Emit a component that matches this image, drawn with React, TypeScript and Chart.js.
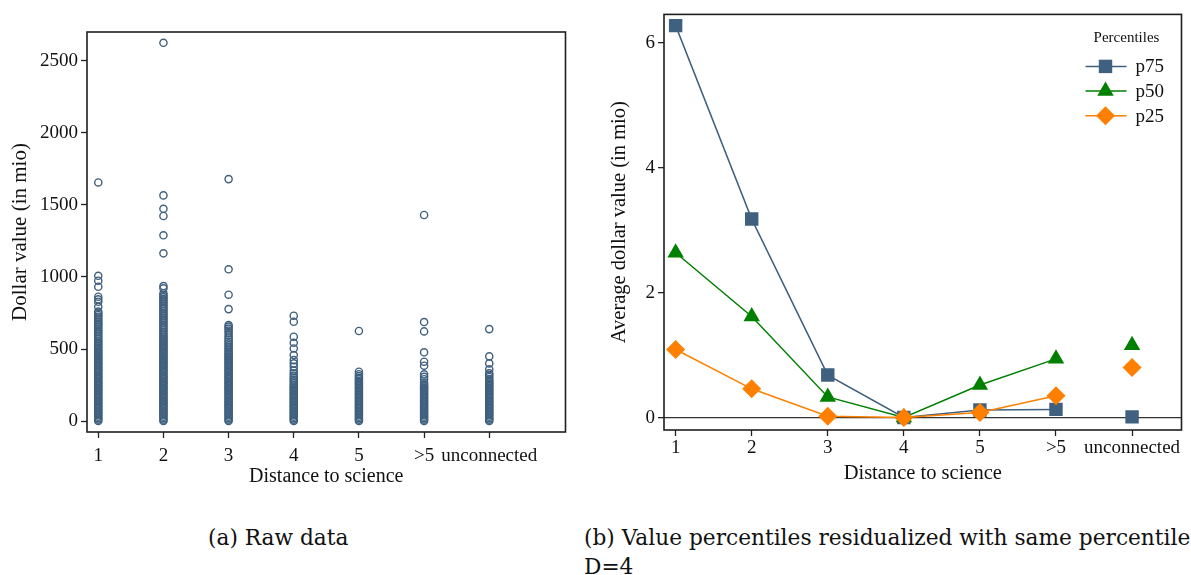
import React, { useEffect, useRef } from "react";
import { Chart, registerables } from "chart.js";

Chart.register(...registerables);

const FONT = "'Liberation Serif', 'Times New Roman', serif";
const CAPTION_FONT = "'DejaVu Serif', serif";
const BLUE = "#3f607e";
const GREEN = "#008000";
const ORANGE = "#ff8000";
const INK = "#111111";

// ---------- Panel (a): raw data ----------
const rawCategories = ["1", "2", "3", "4", "5", ">5", "unconnected"];
const rawXPositions = [1, 2, 3, 4, 5, 6, 7];
const rawYTicks = [0, 500, 1000, 1500, 2000, 2500];

const rawD1 = [
  0, 10, 20, 30, 40, 50, 60, 70, 80, 90, 100, 110, 120, 130, 140, 150, 160, 170, 180, 190, 200,
  210, 220, 230, 240, 250, 260, 270, 280, 290, 300, 310, 320, 330, 340, 350, 360, 370, 380, 390,
  400, 410, 420, 430, 440, 450, 460, 470, 480, 490, 500, 510, 520, 532, 544, 556, 568, 580, 592,
  604, 616, 628, 640, 652, 664, 676, 688, 700, 712, 724, 736, 748, 760, 793, 828, 845, 863, 932,
  974, 1008, 1656,
];
const rawD2 = [
  0, 10, 20, 30, 40, 50, 60, 70, 80, 90, 100, 110, 120, 130, 140, 150, 160, 170, 180, 190, 200,
  210, 220, 230, 240, 250, 260, 270, 280, 290, 300, 310, 320, 330, 340, 350, 360, 370, 380, 390,
  400, 410, 420, 430, 440, 450, 460, 470, 480, 490, 500, 510, 520, 530, 540, 550, 560, 572, 584,
  596, 608, 620, 632, 644, 656, 668, 680, 692, 704, 716, 728, 740, 752, 764, 776, 788, 800, 812,
  824, 836, 848, 860, 872, 886, 921, 937, 1164, 1289, 1423, 1473, 1566, 2625,
];
const rawD3 = [
  0, 10, 20, 30, 40, 50, 60, 70, 80, 90, 100, 110, 120, 130, 140, 150, 160, 170, 180, 190, 200,
  210, 220, 230, 240, 250, 260, 270, 280, 290, 300, 310, 320, 330, 340, 350, 360, 370, 380, 390,
  400, 410, 420, 430, 440, 450, 460, 470, 480, 492, 504, 516, 528, 540, 552, 565, 580, 596, 612,
  628, 642, 655, 666, 777, 877, 1053, 1679,
];
const rawD4 = [
  0, 10, 20, 30, 40, 50, 60, 70, 80, 90, 100, 110, 120, 130, 140, 150, 160, 170, 180, 190, 200,
  210, 220, 230, 240, 252, 264, 276, 288, 300, 315, 331, 350, 377, 400, 423, 458, 504, 543, 585,
  689, 731,
];
const rawD5 = [
  0, 10, 20, 30, 40, 50, 60, 70, 80, 90, 100, 110, 120, 130, 140, 150, 160, 170, 180, 190, 200,
  210, 220, 230, 240, 250, 260, 270, 280, 290, 300, 312, 325, 342, 625,
];
const rawD6 = [
  0, 10, 20, 30, 40, 50, 60, 70, 80, 90, 100, 110, 120, 130, 140, 150, 160, 170, 180, 190, 200,
  210, 220, 230, 240, 250, 266, 290, 307, 324, 384, 412, 477, 622, 687, 1430,
];
const rawD7 = [
  0, 10, 20, 30, 40, 50, 60, 70, 80, 90, 100, 110, 120, 130, 140, 150, 160, 170, 180, 190, 200,
  210, 220, 230, 240, 250, 260, 270, 280, 292, 306, 320, 331, 359, 400, 449, 638,
];
const rawColumns = [rawD1, rawD2, rawD3, rawD4, rawD5, rawD6, rawD7];

// ---------- Panel (b): percentiles ----------
const distCategories = ["1", "2", "3", "4", "5", ">5", "unconnected"];
const distPositions = [1, 2, 3, 4, 5, 6, 7];
const p75 = [6.28, 3.18, 0.68, 0.0, 0.12, 0.13, 0.01];
const p50 = [2.64, 1.62, 0.33, 0.0, 0.52, 0.94, 1.16];
const p25 = [1.09, 0.46, 0.02, 0.0, 0.08, 0.35, 0.8];
const valueTicks = [0, 2, 4, 6];
const legendTitle = "Percentiles";

const framePlugin = {
  id: "frame",
  afterDatasetsDraw(chart: any) {
    const { ctx, chartArea: a } = chart;
    ctx.save();
    ctx.strokeStyle = "#1e1e1e";
    ctx.lineWidth = 1.6;
    ctx.strokeRect(a.left, a.top, a.right - a.left, a.bottom - a.top);
    ctx.restore();
  },
};

function drawMarker(ctx: CanvasRenderingContext2D, style: string, x: number, y: number, r: number) {
  ctx.beginPath();
  if (style === "rect") {
    const s = Math.SQRT1_2 * r;
    ctx.rect(x - s, y - s, 2 * s, 2 * s);
  } else if (style === "triangle") {
    let a = 0;
    ctx.moveTo(x + Math.sin(a) * r, y - Math.cos(a) * r);
    a += (2 * Math.PI) / 3;
    ctx.lineTo(x + Math.sin(a) * r, y - Math.cos(a) * r);
    a += (2 * Math.PI) / 3;
    ctx.lineTo(x + Math.sin(a) * r, y - Math.cos(a) * r);
    ctx.closePath();
  } else {
    ctx.moveTo(x, y - r);
    ctx.lineTo(x + r, y);
    ctx.lineTo(x, y + r);
    ctx.lineTo(x - r, y);
    ctx.closePath();
  }
  ctx.fill();
}

const legendPlugin = {
  id: "pctLegend",
  afterDraw(chart: any) {
    const { ctx, chartArea: a } = chart;
    ctx.save();
    ctx.fillStyle = INK;
    ctx.font = `15px ${FONT}`;
    ctx.textAlign = "center";
    ctx.textBaseline = "middle";
    ctx.fillText(legendTitle, a.right - 55, a.top + 24);
    const order = [0, 1, 2];
    order.forEach((i, row) => {
      const ds = chart.data.datasets[i];
      const y = a.top + 52 + row * 24.7;
      ctx.strokeStyle = ds.borderColor;
      ctx.lineWidth = 1.5;
      ctx.beginPath();
      ctx.moveTo(a.right - 96, y);
      ctx.lineTo(a.right - 55, y);
      ctx.stroke();
      ctx.fillStyle = ds.borderColor;
      drawMarker(ctx, ds.pointStyle, a.right - 76, y, 9.5);
      ctx.fillStyle = INK;
      ctx.font = `19px ${FONT}`;
      ctx.textAlign = "left";
      ctx.fillText(ds.label, a.right - 46, y + 1);
    });
    ctx.restore();
  },
};

function RawChart() {
  const ref = useRef<HTMLCanvasElement>(null);
  useEffect(() => {
    const data = rawColumns.flatMap((vals, i) => vals.map((v) => ({ x: rawXPositions[i], y: v })));
    const chart = new Chart(ref.current!, {
      type: "scatter",
      data: {
        datasets: [
          {
            label: "raw",
            data,
            pointStyle: "circle",
            pointRadius: 3.6,
            pointBorderWidth: 1.4,
            borderColor: BLUE,
            backgroundColor: "rgba(0,0,0,0)",
          },
        ],
      },
      options: {
        animation: false,
        responsive: true,
        maintainAspectRatio: false,
        layout: { padding: { top: 32, right: 24.5, bottom: 10, left: 0 } },
        plugins: { legend: { display: false }, tooltip: { enabled: false } },
        scales: {
          x: {
            type: "linear",
            min: 0.827,
            max: 8.17,
            afterBuildTicks: (s: any) => {
              s.ticks = rawXPositions.map((v) => ({ value: v }));
            },
            afterFit: (s: any) => {
              s.height = 58;
            },
            ticks: {
              callback: (_v: any, i: number) => rawCategories[i],
              font: { family: FONT, size: 19 },
              color: INK,
              padding: 7,
              maxRotation: 0,
              autoSkip: false,
            },
            grid: { drawOnChartArea: false, tickLength: 6, tickColor: "#222", tickWidth: 1.3 },
            border: { display: false },
            title: {
              display: true,
              text: "Distance to science",
              font: { family: FONT, size: 20 },
              color: INK,
              padding: { top: 0, bottom: 1 },
            },
          },
          y: {
            type: "linear",
            min: -76,
            max: 2700,
            afterBuildTicks: (s: any) => {
              s.ticks = rawYTicks.map((v) => ({ value: v }));
            },
            afterFit: (s: any) => {
              s.width = 87;
            },
            ticks: {
              callback: (v: any) => String(v),
              font: { family: FONT, size: 19 },
              color: INK,
              padding: 3,
            },
            grid: { drawOnChartArea: false, tickLength: 6, tickColor: "#222", tickWidth: 1.3 },
            border: { display: false },
            title: {
              display: true,
              text: "Dollar value (in mio)",
              font: { family: FONT, size: 21 },
              color: INK,
              padding: { top: 8, bottom: 0 },
            },
          },
        },
      },
      plugins: [framePlugin],
    });
    return () => chart.destroy();
  }, []);
  return (
    <div style={{ position: "absolute", left: 0, top: 0, width: 590, height: 500 }}>
      <canvas ref={ref} />
    </div>
  );
}

function PercentileChart() {
  const ref = useRef<HTMLCanvasElement>(null);
  useEffect(() => {
    const toPoints = (vals: number[]) => vals.map((v, i) => ({ x: distPositions[i], y: v }));
    const gap = (ctx: any) =>
      distCategories[ctx.p1DataIndex] === "unconnected" ? "rgba(0,0,0,0)" : undefined;
    const mk = (label: string, vals: number[], color: string, style: string, order: number) => ({
      label,
      data: toPoints(vals),
      borderColor: color,
      backgroundColor: color,
      pointBackgroundColor: color,
      pointBorderColor: color,
      pointStyle: style,
      pointRadius: 9.5,
      pointBorderWidth: 0,
      borderWidth: 1.5,
      order,
      segment: { borderColor: gap },
    });
    const chart = new Chart(ref.current!, {
      type: "line",
      data: {
        datasets: [
          mk("p75", p75, BLUE, "rect", 2),
          mk("p50", p50, GREEN, "triangle", 1),
          mk("p25", p25, ORANGE, "rectRot", 0),
        ] as any,
      },
      options: {
        animation: false,
        responsive: true,
        maintainAspectRatio: false,
        layout: { padding: { top: 12, right: 2, bottom: 12, left: 0 } },
        plugins: { legend: { display: false }, tooltip: { enabled: false } },
        scales: {
          x: {
            type: "linear",
            min: 0.847,
            max: 7.65,
            afterBuildTicks: (s: any) => {
              s.ticks = distPositions.map((v) => ({ value: v }));
            },
            afterFit: (s: any) => {
              s.height = 58;
            },
            ticks: {
              callback: (_v: any, i: number) => distCategories[i],
              font: { family: FONT, size: 19 },
              color: INK,
              padding: 1,
              maxRotation: 0,
              autoSkip: false,
            },
            grid: { drawOnChartArea: false, tickLength: 6, tickColor: "#222", tickWidth: 1.3 },
            border: { display: false },
            title: {
              display: true,
              text: "Distance to science",
              font: { family: FONT, size: 20.5 },
              color: INK,
              padding: { top: 0, bottom: 2 },
            },
          },
          y: {
            type: "linear",
            min: -0.2,
            max: 6.46,
            afterBuildTicks: (s: any) => {
              s.ticks = valueTicks.map((v) => ({ value: v }));
            },
            afterFit: (s: any) => {
              s.width = 74;
            },
            ticks: {
              callback: (v: any) => String(v),
              font: { family: FONT, size: 19 },
              color: INK,
              padding: 3,
            },
            grid: {
              drawOnChartArea: true,
              color: (c: any) => (c.tick && c.tick.value === 0 ? "#333333" : "rgba(0,0,0,0)"),
              lineWidth: 1.3,
              tickLength: 6,
              tickColor: "#222",
              tickWidth: 1.3,
            },
            border: { display: false },
            title: {
              display: true,
              text: "Average dollar value (in mio)",
              font: { family: FONT, size: 20.5 },
              color: INK,
              padding: { top: 17, bottom: 0 },
            },
          },
        },
      },
      plugins: [framePlugin, legendPlugin],
    });
    return () => chart.destroy();
  }, []);
  return (
    <div style={{ position: "absolute", left: 590, top: 0, width: 601, height: 500 }}>
      <canvas ref={ref} />
    </div>
  );
}

export default function App() {
  const captionStyle: React.CSSProperties = {
    position: "absolute",
    fontFamily: CAPTION_FONT,
    fontSize: 21.7,
    lineHeight: "29px",
    color: INK,
    whiteSpace: "nowrap",
  };
  return (
    <div
      style={{
        position: "absolute",
        left: 0,
        top: 0,
        width: 1191,
        height: 575,
        overflow: "hidden",
        background: "#ffffff",
      }}
    >
      <RawChart />
      <PercentileChart />
      <div style={{ ...captionStyle, left: 208, top: 523 }}>(a) Raw data</div>
      <div style={{ ...captionStyle, left: 584, top: 523 }}>
        (b) Value percentiles residualized with same percentile in
        <br />
        D=4
      </div>
    </div>
  );
}
